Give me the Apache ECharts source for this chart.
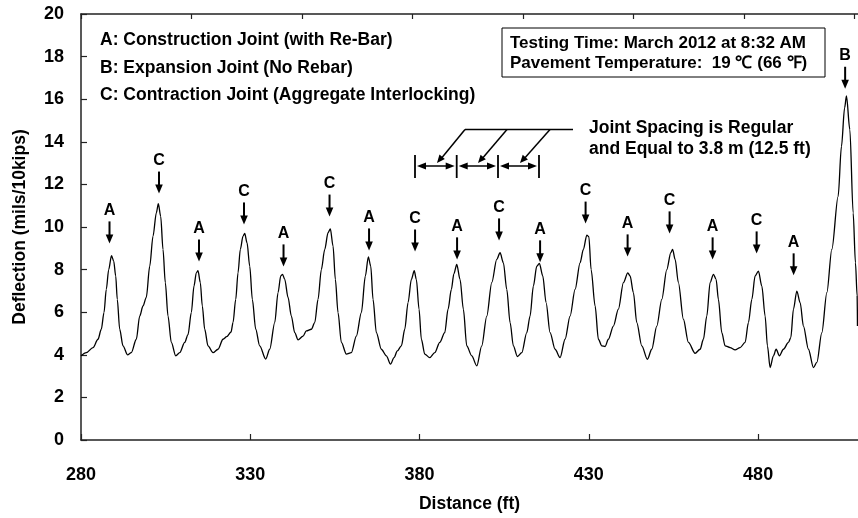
<!DOCTYPE html>
<html><head><meta charset="utf-8">
<script src="https://cdn.jsdelivr.net/npm/echarts@6/dist/echarts.min.js"></script>
<style>html,body{margin:0;padding:0;background:#fff}#c{width:858px;height:518px}</style>
</head><body><div id="c"></div>
<script>
// ---- data ----
const distanceFt = [
280.0,281.57,283.55,285.02,286.0,286.79,287.47,288.18,289.01,289.66,290.25,290.72,291.43,292.41,293.74,294.86,296.34,297.34,298.32,299.29,
300.30,301.27,302.25,302.84,303.54,304.22,304.90,305.70,306.68,307.98,309.16,310.63,311.61,312.58,313.38,314.06,314.56,315.24,315.83,316.54,
317.52,318.99,320.47,321.95,323.04,324.31,324.90,325.70,326.38,327.06,327.86,328.36,329.04,329.84,330.61,331.61,332.79,334.56,335.75,337.22,
338.20,339.00,339.53,340.18,341.15,342.13,343.13,344.11,345.58,346.56,348.03,349.04,350.01,350.99,351.99,352.97,353.65,354.45,355.13,355.92,
356.90,358.38,359.85,361.33,362.81,363.99,364.87,365.58,366.26,367.24,368.71,370.19,371.43,372.46,373.44,374.62,375.63,376.60,377.58,378.43,
379.05,379.85,380.53,381.54,383.01,384.49,385.97,387.44,388.42,389.39,390.13,390.99,391.96,392.94,393.94,395.42,396.90,398.37,399.85,401.33,
402.80,403.78,404.76,405.76,406.74,407.71,408.89,410.19,411.67,412.64,413.62,414.62,415.39,416.39,417.37,418.55,420.03,421.51,422.98,424.46,
425.94,427.41,428.39,429.40,430.00,430.67,431.85,432.82,433.83,434.80,435.78,437.25,438.73,440.21,441.51,442.19,443.16,444.16,445.64,447.30,
448.59,450.07,451.55,453.02,454.21,454.74,455.48,456.45,457.93,459.41,461.39,462.87,463.84,464.84,465.82,466.80,467.59,468.27,469.27,470.25,
471.72,473.20,474.68,476.16,477.13,478.14,479.11,480.09,481.09,482.07,482.75,483.54,484.52,485.32,486.29,487.47,488.95,489.66,490.43,491.43,
492.41,493.38,494.86,496.34,497.34,498.82,500.30,501.77,503.63,504.61,505.55,506.09,507.09,508.07,508.75,509.25,509.34
];
const deflection = [
3.95,4.1,4.34,4.73,5.2,5.98,7.07,8.0,8.65,8.4,7.7,6.6,5.2,4.42,4.0,4.1,4.73,5.82,6.29,6.7,
8.16,9.57,10.66,11.1,10.5,8.95,7.39,5.82,4.58,3.95,4.1,4.58,4.95,5.98,7.23,7.85,7.95,7.39,6.29,5.2,
4.42,4.1,4.26,4.73,4.85,5.07,5.51,6.6,7.85,8.95,9.57,9.7,9.26,8.16,6.6,5.2,4.42,3.8,4.26,5.51,
6.92,7.7,7.78,7.54,6.7,5.82,5.04,4.7,4.88,5.12,5.2,5.51,6.6,8.0,8.95,9.73,9.91,9.1,7.54,5.98,
4.58,4.03,4.1,4.88,5.98,7.7,8.6,8.16,6.6,5.04,4.26,3.95,3.56,3.87,4.18,4.42,5.2,6.45,7.54,7.95,
7.54,6.14,4.73,4.03,3.87,4.1,4.58,5.04,6.14,7.07,7.8,8.24,7.54,6.14,4.42,3.95,3.48,4.42,5.82,7.39,
8.48,8.79,8.32,7.07,5.51,4.42,3.92,4.1,5.04,5.82,7.23,8.16,8.29,7.7,6.45,5.04,4.26,3.87,4.73,5.82,
7.07,8.32,8.95,9.62,9.55,8.0,6.29,4.73,4.42,4.39,4.73,5.35,6.14,7.39,7.85,7.7,6.92,5.51,4.42,3.79,
4.26,5.35,6.6,8.0,8.79,8.95,8.48,7.39,5.67,4.58,4.07,4.26,4.73,5.82,7.39,7.78,7.54,6.6,5.04,4.42,
4.34,4.23,4.34,4.58,5.51,6.6,7.7,7.93,7.23,5.82,4.42,3.4,3.95,4.26,3.95,4.26,4.58,4.81,6.14,6.99,
6.45,5.35,4.26,3.4,3.64,5.04,6.92,8.95,11.44,13.78,15.6,16.15,14.57,10.66,8.32,6.76,5.35
];
// joint markers: distance (ft), arrow-tip deflection, joint type
const jointDistance = [288.42,303.04,314.86,328.15,339.82,353.41,365.08,378.67,391.08,403.48,415.6,429.04,441.45,453.85,466.56,479.56,490.49,505.7];
const jointArrowTip = [9.23,11.57,8.38,10.12,8.15,10.49,8.9,8.85,8.48,9.37,8.34,10.16,8.62,9.7,8.48,8.76,7.73,16.49];
const jointType     = ['A','C','A','C','A','C','A','C','A','C','A','C','A','C','A','C','A','B'];
// axes
const xTickValues = [280,330,380,430,480];
const xRange = [280, 509.5];
const yRange = [0, 20];
const yInterval = 2;
const topTickMetres = [0,10,20,30,40,50,60,70];
const topAxisMax = 70.3;
// texts
const legendLines = ['A: Construction Joint (with Re-Bar)','B: Expansion Joint (No Rebar)','C: Contraction Joint (Aggregate Interlocking)'];
const boxLines = ['Testing Time: March 2012 at 8:32 AM','Pavement Temperature:  19 \u2103 (66 \u2109)'];
const spacingLines = ['Joint Spacing is Regular','and Equal to 3.8 m (12.5 ft)'];

const FONT = '"Liberation Sans", Arial, sans-serif';
const AX = '#222';

const curve = distanceFt.map((d,i)=>[d, deflection[i]]);
const joints = jointDistance.map((d,i)=>[d, jointArrowTip[i], jointType[i]]);

function txt(x, y, s, size, align){
  return {type:'text', x:x, y:y, z:50, style:{text:s, fill:'#000', font:'bold '+size+'px '+FONT,
    textAlign:align||'left', textVerticalAlign:'middle', align:align||'left', verticalAlign:'middle'}};
}
function line(x1,y1,x2,y2,w){
  return {type:'line', z:50, shape:{x1,y1,x2,y2}, style:{stroke:'#000', lineWidth:w||1.5}};
}
function head(tx,ty,fx,fy,len,hw){
  const dx=tx-fx, dy=ty-fy, L=Math.hypot(dx,dy), ux=dx/L, uy=dy/L;
  const bx=tx-ux*len, by=ty-uy*len;
  return {type:'polygon', z:50, shape:{points:[[tx,ty],[bx-uy*hw,by+ux*hw],[bx+uy*hw,by-ux*hw]]}, style:{fill:'#000'}};
}

const g = [];
legendLines.forEach((s,i)=>g.push(txt(100, 40.5+27.5*i, s, 17.5)));
g.push({type:'rect', z:49, shape:{x:502, y:28, width:323, height:49}, style:{fill:'#fff', stroke:'#000', lineWidth:1}});
boxLines.forEach((s,i)=>g.push(txt(510, 43+20*i, s, 17)));
spacingLines.forEach((s,i)=>g.push(txt(589, 128+21.5*i, s, 17.5)));
// callout lines
g.push(line(465,129.5,573,129.5));
[[465,437],[507,478],[550,520]].forEach(([a,b])=>{g.push(line(a,129.5,b+3,160)); g.push(head(b,163,a,129.5,8,3.5));});
// dimension bars & double arrows
const bars=[415,456.7,498,539];
bars.forEach(x=>g.push(line(x,155,x,178,1.8)));
for(let i=0;i<3;i++){
  const a=bars[i]+2, b=bars[i+1]-2;
  g.push(line(a+6,166,b-6,166,1.5));
  g.push(head(a,166,b,166,9,3.5)); g.push(head(b,166,a,166,9,3.5));
}

const chart = echarts.init(document.getElementById('c'), null, {renderer:'canvas'});
chart.setOption({
  backgroundColor:'#fff',
  animation:false,
  grid:{left:81, right:0, top:14, bottom:77},
  xAxis:[{
    type:'value', position:'bottom', min:xRange[0], max:xRange[1],
    name:'Distance (ft)', nameLocation:'middle', nameGap:55,
    nameTextStyle:{fontFamily:FONT, fontWeight:'bold', fontSize:17.5, color:'#000'},
    axisLine:{show:true, onZero:false, lineStyle:{color:AX, width:1.5}},
    axisTick:{show:true, inside:true, length:6, customValues:xTickValues, lineStyle:{color:AX, width:1.2}},
    axisLabel:{show:true, customValues:xTickValues, margin:26, fontFamily:FONT, fontWeight:'bold', fontSize:18, color:'#000'},
    splitLine:{show:false}
  },{
    type:'value', position:'top', min:0, max:topAxisMax,
    axisLine:{show:true, onZero:false, lineStyle:{color:AX, width:1.5}},
    axisTick:{show:true, inside:true, length:5, customValues:topTickMetres, lineStyle:{color:AX, width:1.2}},
    axisLabel:{show:false}, splitLine:{show:false}
  }],
  yAxis:{
    type:'value', min:yRange[0], max:yRange[1], interval:yInterval,
    name:'Deflection (mils/10kips)', nameLocation:'middle', nameGap:52,
    nameTextStyle:{fontFamily:FONT, fontWeight:'bold', fontSize:17.5, color:'#000'},
    axisLine:{show:true, onZero:false, lineStyle:{color:AX, width:1.5}},
    axisTick:{show:true, inside:true, length:6, lineStyle:{color:AX, width:1.2}},
    axisLabel:{margin:17, fontFamily:FONT, fontWeight:'bold', fontSize:18, color:'#000'},
    splitLine:{show:false}
  },
  series:[{
    type:'line', data:curve, showSymbol:false, symbol:'none', smooth:0.3, smoothMonotone:'x',
    lineStyle:{color:'#000', width:1.3}, clip:false, z:3
  },{
    type:'custom', data:joints, clip:false, z:10,
    renderItem:function(params, api){
      const p = api.coord([api.value(0), api.value(1)]);
      const letter = jointType[params.dataIndex];
      return {type:'group', children:[
        {type:'line', shape:{x1:p[0], y1:p[1]-22, x2:p[0], y2:p[1]-7}, style:{stroke:'#000', lineWidth:2}},
        {type:'polygon', shape:{points:[[p[0],p[1]],[p[0]-3.8,p[1]-9],[p[0]+3.8,p[1]-9]]}, style:{fill:'#000'}},
        {type:'text', x:p[0], y:p[1]-33, style:{text:letter, fill:'#000', font:'bold 16px '+FONT,
          align:'center', verticalAlign:'middle', textAlign:'center', textVerticalAlign:'middle'}}
      ]};
    }
  }],
  graphic:g
});
</script></body></html>
